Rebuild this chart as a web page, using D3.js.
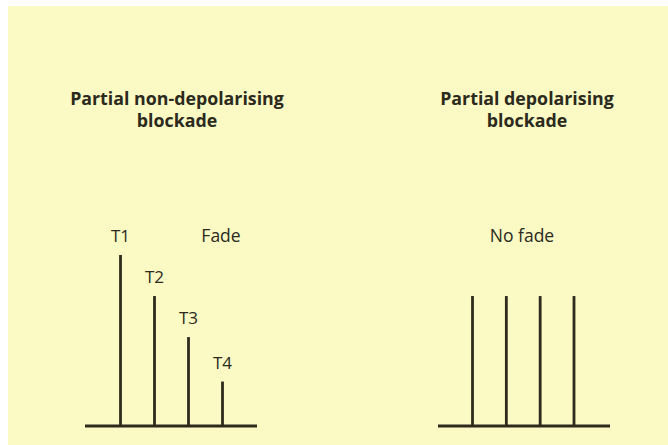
<!DOCTYPE html>
<meta charset="utf-8">
<style>
  body { margin: 0; background: #fff; }
  text { font-family: "Open Sans", "DejaVu Sans", sans-serif; fill: #2b2a1c; }
</style>
<body>
<svg width="668" height="445"></svg>
<script src="https://d3js.org/d3.v7.min.js"></script>
<script>
// twitch labels and relative heights
var twitches = ["T1", "T2", "T3", "T4"];
var fadeValues = [100, 76, 52, 26];
var noFadeValues = [76, 76, 76, 76];
var panelTitles = [["Partial non-depolarising", "blockade"], ["Partial depolarising", "blockade"]];
var panelNotes = ["Fade", "No fade"];

var svg = d3.select("svg");
var ink = "#2e2b1c";

svg.append("rect")
    .attr("x", 8).attr("y", 6)
    .attr("width", 660).attr("height", 439)
    .attr("fill", "#fbf9c4");

var y = d3.scaleLinear().domain([0, 100]).range([426, 255]);

var panels = [
  {values: fadeValues, x0: 120.5, x1: 222.5, base: [85, 257], titleX: 177, noteX: 221, showLabels: true},
  {values: noFadeValues, x0: 472.5, x1: 574, base: [438, 610], titleX: 527, noteX: 522, showLabels: false}
];

panels.forEach(function(p, i) {
  var x = d3.scalePoint().domain(twitches).range([p.x0, p.x1]);
  var g = svg.append("g");

  // title
  g.append("text")
      .attr("text-anchor", "middle")
      .attr("font-weight", "bold")
      .attr("font-size", 17.8)
    .selectAll("tspan")
    .data(panelTitles[i])
    .enter().append("tspan")
      .attr("x", p.titleX)
      .attr("y", function(d, j) { return 105 + j * 22; })
      .text(function(d) { return d; });

  // baseline
  g.append("line")
      .attr("x1", p.base[0]).attr("x2", p.base[1])
      .attr("y1", y(0)).attr("y2", y(0))
      .attr("stroke", ink).attr("stroke-width", 2.8);

  // stimulus bars
  g.selectAll(".bar")
    .data(p.values)
    .enter().append("line")
      .attr("class", "bar")
      .attr("x1", function(d, j) { return x(twitches[j]); })
      .attr("x2", function(d, j) { return x(twitches[j]); })
      .attr("y1", y(0))
      .attr("y2", function(d) { return y(d); })
      .attr("stroke", ink).attr("stroke-width", 2.8);

  if (p.showLabels) {
    g.selectAll(".lbl")
      .data(p.values)
      .enter().append("text")
        .attr("class", "lbl")
        .attr("text-anchor", "middle")
        .attr("font-size", 17)
        .attr("fill", "#3a3928")
        .attr("x", function(d, j) { return x(twitches[j]); })
        .attr("y", function(d) { return y(d) - 13; })
        .text(function(d, j) { return twitches[j]; });
  }

  g.append("text")
      .attr("text-anchor", "middle")
      .attr("font-size", 17.5)
      .attr("fill", "#3a3928")
      .attr("x", p.noteX)
      .attr("y", 242)
      .text(panelNotes[i]);
});
</script>
</body>
